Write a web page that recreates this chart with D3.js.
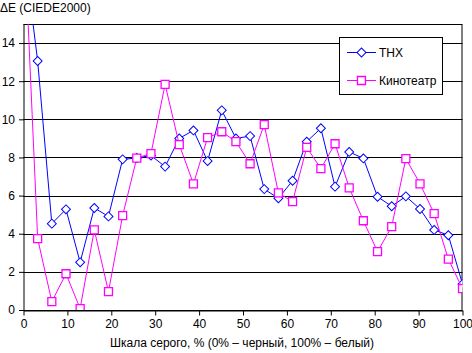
<!DOCTYPE html>
<html>
<head>
<meta charset="utf-8">
<script src="https://cdn.jsdelivr.net/npm/d3@7"></script>
<style>
  body { margin: 0; background: #fff; }
  svg text { font-family: "Liberation Sans", Arial, sans-serif; font-size: 12px; fill: #000; }
</style>
</head>
<body>
<div id="chart"></div>
<script>
const svgWidth = 472
const svgHeight = 353

// x positions: 32 steps of grey scale, 0..100 %
const steps = d3.range(32).map(i => i * 100 / 31)

const thx = [19.0, 13.06, 4.53, 5.28, 2.50, 5.35, 4.91, 7.90, 7.97, 8.1,
  7.52, 9.0, 9.42, 7.81, 10.47, 9.0, 9.12, 6.34, 5.86, 6.78,
  8.83, 9.53, 6.47, 8.29, 7.95, 5.94, 5.44, 5.96, 5.30, 4.20,
  3.92, 1.36]

const cinema = [20.5, 3.74, 0.44, 1.90, 0.07, 4.20, 0.96, 4.95, 7.97, 8.2,
  11.83, 8.67, 6.62, 9.04, 9.35, 8.83, 7.67, 9.72, 6.14, 5.68,
  8.53, 7.41, 8.72, 6.41, 4.68, 3.06, 4.37, 7.94, 6.62, 5.05,
  2.67, 1.12]

const xTicks = [0, 10, 20, 30, 40, 50, 60, 70, 80, 90, 100]
const yTicks = [0, 2, 4, 6, 8, 10, 12, 14]

let margin = { top: 24, right: 10, bottom: 43, left: 23.5 }
let width = 462.5 - margin.left
let height = 310 - margin.top

let svg = d3.select("#chart")
  .append("svg")
  .attr("width", svgWidth)
  .attr("height", svgHeight)

let chartGroup = svg.append("g")
  .attr("transform", `translate(${margin.left}, ${margin.top})`)

let x = d3.scaleLinear().domain([0, 100]).range([0, width])
let y = d3.scaleLinear().domain([0, 15]).range([height, 0])

// horizontal grid
chartGroup.append("g")
  .selectAll("line")
  .data(yTicks.concat([15]))
  .enter()
  .append("line")
  .attr("x1", 0)
  .attr("x2", width)
  .attr("y1", d => Math.round(y(d)) + 0.5)
  .attr("y2", d => Math.round(y(d)) + 0.5)
  .attr("stroke", "#000")

// right border
chartGroup.append("line")
  .attr("x1", Math.round(width) - 0.5).attr("x2", Math.round(width) - 0.5)
  .attr("y1", 0.5).attr("y2", height)
  .attr("stroke", "#000")

let bottomAxis = d3.axisBottom(x).tickValues(xTicks).tickSize(5).tickPadding(4).tickSizeOuter(0)
let leftAxis = d3.axisLeft(y).tickValues(yTicks).tickSize(5).tickPadding(4).tickSizeOuter(0)

let xAxis = chartGroup.append("g")
  .attr("transform", `translate(0, ${Math.round(height) + 0.5})`)
  .call(bottomAxis)
let yAxisG = chartGroup.append("g")
  .attr("transform", "translate(0.5, 0)")
  .call(leftAxis)

svg.selectAll(".tick text").style("font-size", "12px").style("font-family", "Liberation Sans, Arial, sans-serif")
svg.selectAll(".domain, .tick line").attr("stroke", "#000")
yAxisG.select(".domain").attr("d", `M0,0V${height}`)

// clip for the series
svg.append("defs").append("clipPath").attr("id", "plotClip")
  .append("rect").attr("x", 0).attr("y", 0).attr("width", width).attr("height", height)

let plot = chartGroup.append("g").attr("clip-path", "url(#plotClip)")

let line = d3.line().x((d, i) => x(steps[i])).y(d => y(d))

function drawSeries(values, color, diamond, size, sw) {
  plot.append("path")
    .datum(values)
    .attr("d", line)
    .attr("fill", "none")
    .attr("stroke", color)
    .attr("stroke-width", 1)

  plot.append("g")
    .selectAll("path")
    .data(values)
    .enter()
    .append("path")
    .attr("d", d3.symbol().type(d3.symbolSquare).size(size))
    .attr("transform", (d, i) => `translate(${x(steps[i])}, ${y(d)})` + (diamond ? " rotate(45)" : ""))
    .attr("fill", "#fff")
    .attr("stroke", color)
    .attr("stroke-width", sw)
}

drawSeries(thx, "#0000ff", true, 40, 1)
drawSeries(cinema, "#ff00ff", false, 64, 1.3)

// axis titles
svg.append("text")
  .attr("x", 0)
  .attr("y", 12)
  .text("ΔE (CIEDE2000)")

svg.append("text")
  .attr("x", 242)
  .attr("y", 347)
  .style("text-anchor", "middle")
  .text("Шкала серого, % (0% – черный, 100% – белый)")

// legend
let legend = svg.append("g")
legend.append("rect")
  .attr("x", 339.5).attr("y", 37.5)
  .attr("width", 103).attr("height", 57)
  .attr("fill", "#fff")
  .attr("stroke", "#000")

let legendItems = [
  { name: "THX", color: "#0000ff", diamond: true, y: 53 },
  { name: "Кинотеатр", color: "#ff00ff", diamond: false, y: 81 }
]

legendItems.forEach(it => {
  legend.append("line")
    .attr("x1", 347).attr("x2", 376)
    .attr("y1", it.y - 0.5).attr("y2", it.y - 0.5)
    .attr("stroke", it.color)
  legend.append("path")
    .attr("d", d3.symbol().type(d3.symbolSquare).size(it.diamond ? 40 : 64))
    .attr("transform", `translate(361.5, ${it.y - 0.5})` + (it.diamond ? " rotate(45)" : ""))
    .attr("fill", "#fff")
    .attr("stroke", it.color)
    .attr("stroke-width", it.diamond ? 1 : 1.3)
  legend.append("text")
    .attr("x", 379)
    .attr("y", it.y + 4)
    .text(it.name)
})
</script>
</body>
</html>
